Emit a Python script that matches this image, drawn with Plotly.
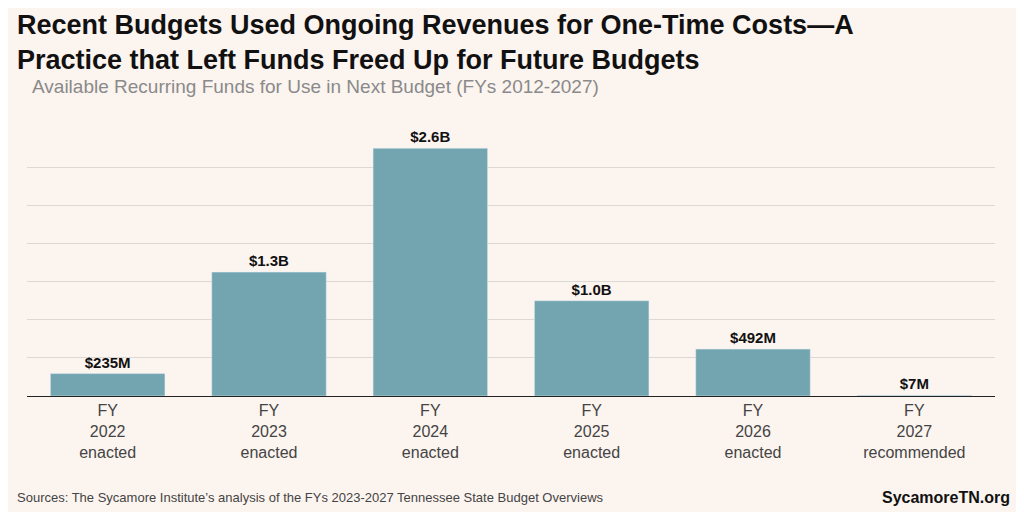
import plotly.graph_objects as go

categories = ["FY<br>2022<br>enacted", "FY<br>2023<br>enacted", "FY<br>2024<br>enacted",
              "FY<br>2025<br>enacted", "FY<br>2026<br>enacted", "FY<br>2027<br>recommended"]
values = [0.235, 1.3, 2.6, 1.0, 0.492, 0.007]
labels = ["$235M", "$1.3B", "$2.6B", "$1.0B", "$492M", "$7M"]

BG = "#fcf4ef"
W, H = 1016, 504          # page has 8px body margin
L, R, T, B = 19, 29, 121, 116
fig = go.Figure(go.Bar(
    x=categories, y=values, text=labels, textposition="outside",
    marker_color="#73a5b0", cliponaxis=False,
    textfont=dict(size=15, color="#111", family="Liberation Sans", weight="bold"),
))

def ann(text, px, py, size, color, xanchor="left", yanchor="top", align="left"):
    # px, py: page pixels from top-left
    return dict(text=text, xref="paper", yref="paper", showarrow=False, align=align,
                x=(px - 8 - L) / (W - L - R), y=((H - (py - 8)) - B) / (H - T - B),
                xanchor=xanchor, yanchor=yanchor, font=dict(size=size, color=color))

fig.update_layout(
    width=W, height=H, paper_bgcolor=BG, plot_bgcolor=BG,
    font=dict(family="Liberation Sans", color="#444"),
    margin=dict(l=L, r=R, t=T, b=B),
    bargap=0.29, showlegend=False,
    xaxis=dict(showline=True, linecolor="#222", linewidth=1, ticks="",
               tickfont=dict(size=16, color="#444")),
    yaxis=dict(range=[0, 2.802], dtick=0.4, showticklabels=False,
               gridcolor="#dcd8d5", zeroline=False),
    annotations=[
        ann("<b>Recent Budgets Used Ongoing Revenues for One-Time Costs—A<br>Practice that Left Funds Freed Up for Future Budgets</b>",
            15, 8, 27, "#111"),
        ann("Available Recurring Funds for Use in Next Budget (FYs 2012-2027)", 30, 74, 19, "#8a8a8a"),
        ann("Sources: The Sycamore Institute’s analysis of the FYs 2023-2027 Tennessee State Budget Overviews",
            15, 497, 13, "#444", yanchor="middle"),
        ann("<b>SycamoreTN.org</b>", 1012, 497, 16, "#111", xanchor="right", yanchor="middle"),
    ],
)
fig.write_html("out.html")
